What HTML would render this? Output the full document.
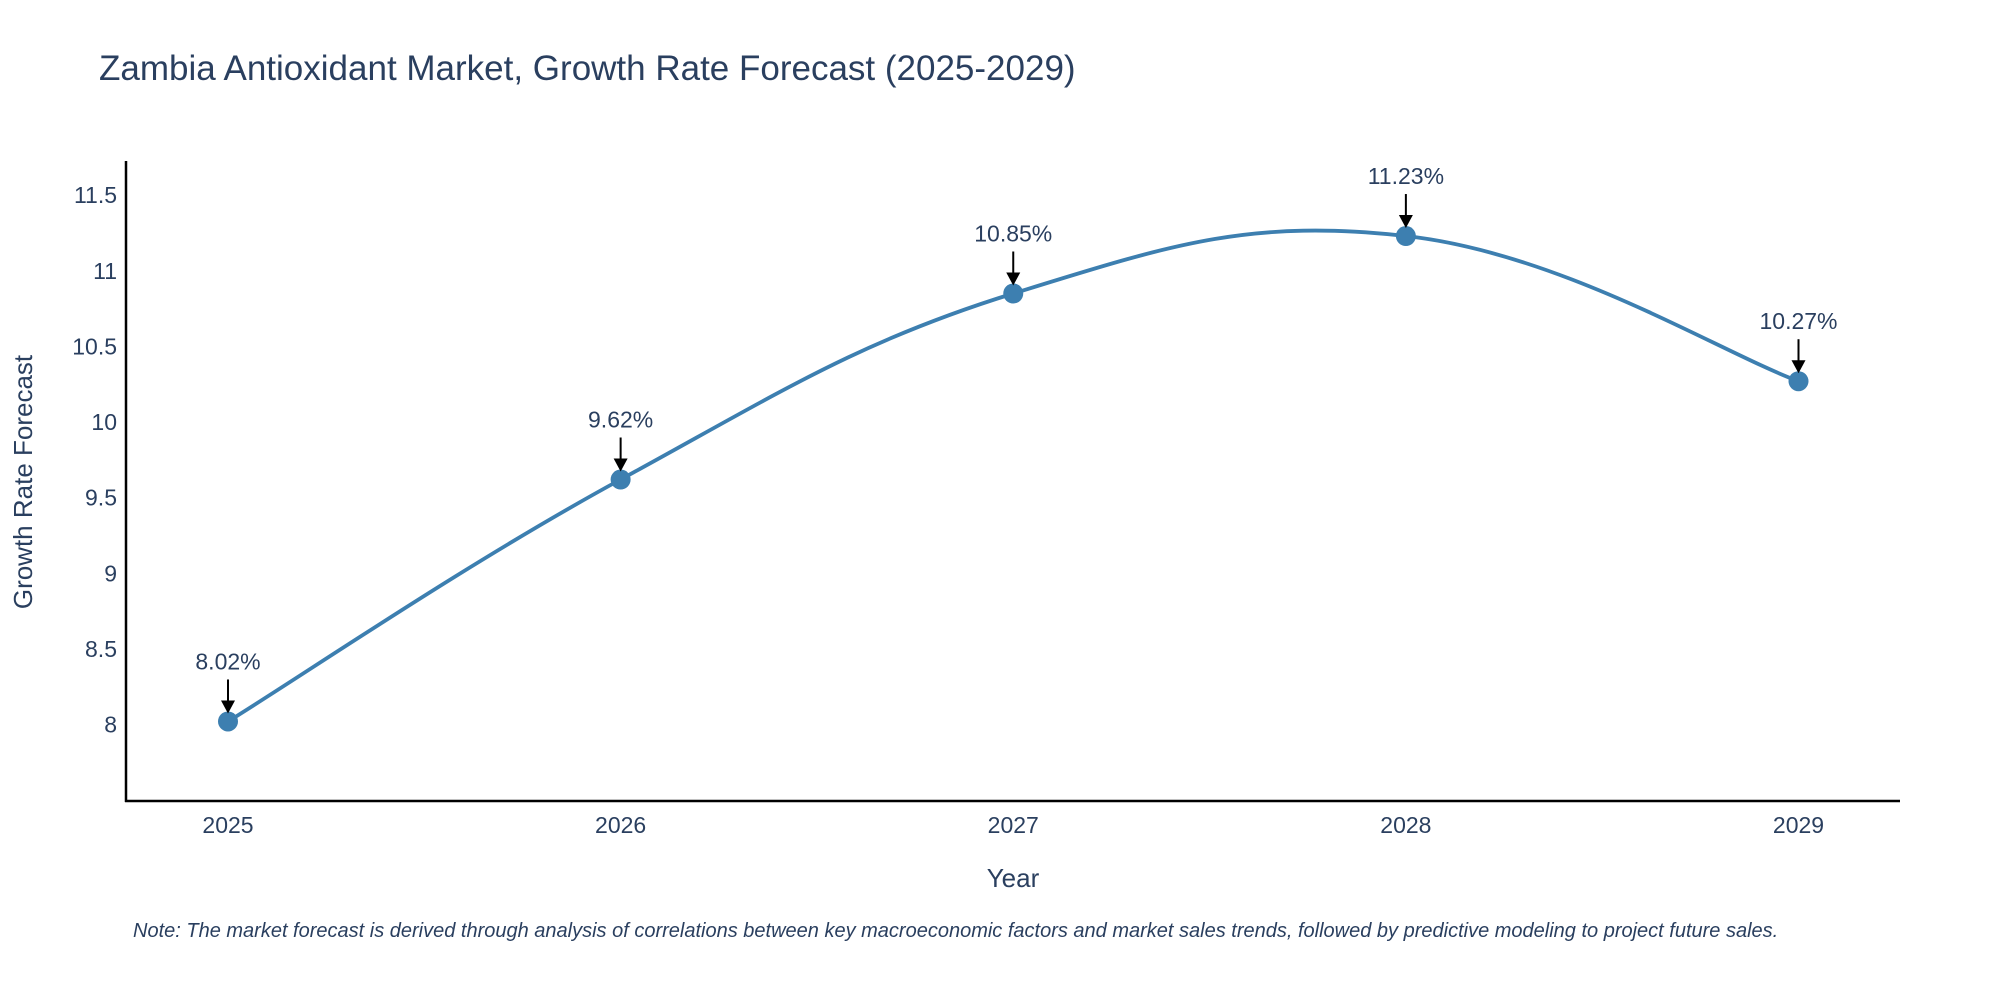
<!DOCTYPE html>
<html><head><meta charset="utf-8"><style>
html,body{margin:0;padding:0;background:#fff;}
svg{display:block;font-family:"Liberation Sans",sans-serif;}
</style></head><body>
<svg id="chart" width="2000" height="1000" viewBox="0 0 2000 1000">
<text x="99" y="80" font-size="35" fill="#2a3f5f">Zambia Antioxidant Market, Growth Rate Forecast (2025-2029)</text>
<g id="yticks"></g>
<g id="xticks"></g>
<line x1="126" y1="161" x2="126" y2="802" stroke="#000" stroke-width="2.5"/>
<line x1="125" y1="801" x2="1900" y2="801" stroke="#000" stroke-width="2.5"/>
<path id="line" fill="none" stroke="#3d7fb0" stroke-width="3.8"/>
<g id="marks"></g>
<text x="25" y="482" font-size="26" fill="#2a3f5f" text-anchor="middle" transform="rotate(-90 25 482)" dominant-baseline="middle">Growth Rate Forecast</text>
<text x="1013" y="887" font-size="26" fill="#2a3f5f" text-anchor="middle">Year</text>
<text x="133" y="937" font-size="20" font-style="italic" fill="#2a3f5f">Note: The market forecast is derived through analysis of correlations between key macroeconomic factors and market sales trends, followed by predictive modeling to project future sales.</text>
</svg>
<script>
const years = ["2025","2026","2027","2028","2029"];
const values = [8.02, 9.62, 10.85, 11.23, 10.27];
const yTicks = [8, 8.5, 9, 9.5, 10, 10.5, 11, 11.5];
const yTickLabels = ["8","8.5","9","9.5","10","10.5","11","11.5"];

const NS="http://www.w3.org/2000/svg";
function xs(i){return 228 + i*(1798.5-228)/4;}
function ys(v){return 724.5 - (v-8)*(724.5-195.2)/3.5;}
function mk(tag,attrs){const e=document.createElementNS(NS,tag);for(const k in attrs)e.setAttribute(k,attrs[k]);return e;}

const yt=document.getElementById('yticks');
yTicks.forEach((t,i)=>{
  const e=mk('text',{x:117,y:ys(t)+8,'font-size':23,fill:'#2a3f5f','text-anchor':'end'});
  
  
  e.textContent=yTickLabels[i];yt.appendChild(e);
});
const xt=document.getElementById('xticks');
years.forEach((y,i)=>{
  const e=mk('text',{x:xs(i),y:833,'font-size':23,fill:'#2a3f5f','text-anchor':'middle'});
  
  
  e.textContent=y;xt.appendChild(e);
});

const pts=values.map((v,i)=>[xs(i),ys(v)]);
let d=`M${pts[0][0]},${pts[0][1]}`;
const s=0.2;
for(let i=0;i<pts.length-1;i++){
  const p0=pts[i-1]||pts[i],p1=pts[i],p2=pts[i+1],p3=pts[i+2]||pts[i+1];
  const c1=[p1[0]+(p2[0]-p0[0])*s,p1[1]+(p2[1]-p0[1])*s];
  const c2=[p2[0]-(p3[0]-p1[0])*s,p2[1]-(p3[1]-p1[1])*s];
  d+=` C${c1[0]},${c1[1]} ${c2[0]},${c2[1]} ${p2[0]},${p2[1]}`;
}
document.getElementById('line').setAttribute('d',d);

const g=document.getElementById('marks');
pts.forEach((p,i)=>{
  const c=mk('circle',{cx:p[0],cy:p[1],r:10,fill:'#3d7fb0'});
  
  
  g.appendChild(c);
  const l=mk('line',{x1:p[0],y1:p[1]-42,x2:p[0],y2:p[1]-20,stroke:'#000','stroke-width':2});
  
  
  g.appendChild(l);
  const a=mk('polygon',{points:`${p[0]-7},${p[1]-21} ${p[0]+7},${p[1]-21} ${p[0]},${p[1]-8}`,fill:'#000'});
  
  
  g.appendChild(a);
  const t=mk('text',{x:p[0],y:p[1]-52,'font-size':23,fill:'#2a3f5f','text-anchor':'middle'});
  
  
  t.textContent=values[i].toFixed(2)+'%';
  g.appendChild(t);
});
</script>
</body></html>
